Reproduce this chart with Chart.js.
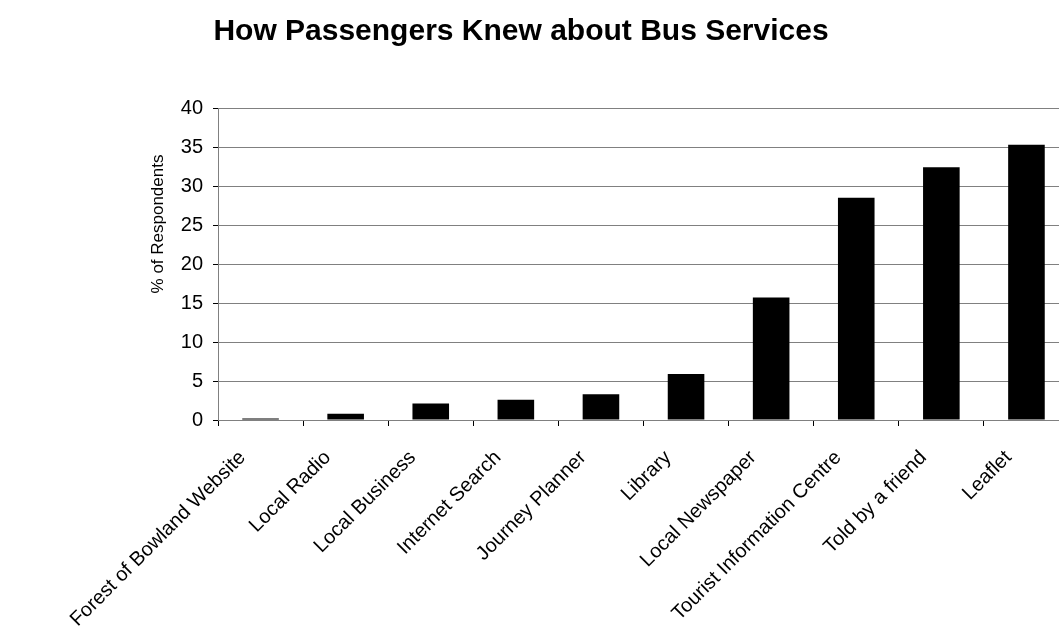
<!DOCTYPE html>
<html>
<head>
<meta charset="utf-8">
<title>How Passengers Knew about Bus Services</title>
<script src="https://cdn.jsdelivr.net/npm/chart.js@4/dist/chart.umd.min.js"></script>
<style>
	html, body { margin: 0; padding: 0; background: #fff; }
	#wrap { width: 1059px; height: 637px; overflow: hidden; }
</style>
</head>
<body>
<!-- canvas is a bit wider than the page, the last gridline ends past the edge -->
<div id="wrap"><canvas id="myChart" width="1069" height="637"></canvas></div>
<script>
const chartTitle = 'How Passengers Knew about Bus Services';
const yTitle = '% of Respondents';
const labels = [
	'Forest of Bowland Website',
	'Local Radio',
	'Local Business',
	'Internet Search',
	'Journey Planner',
	'Library',
	'Local Newspaper',
	'Tourist Information Centre',
	'Told by a friend',
	'Leaflet'
];
const respondents = [0.2, 0.8, 2.1, 2.6, 3.3, 5.9, 15.7, 28.5, 32.4, 35.3];
const yTicks = [0, 5, 10, 15, 20, 25, 30, 35, 40];

const fontFamily = "'Liberation Sans', Arial, sans-serif";

// title and rotated y caption drawn by hand so they sit where wanted
const captions = {
	id: 'captions',
	afterDraw: function(chart){
		let ctx = chart.ctx;
		ctx.save();
		ctx.fillStyle = '#000';
		ctx.textAlign = 'center';

		ctx.font = 'bold 30px ' + fontFamily;
		ctx.textBaseline = 'alphabetic';
		ctx.fillText(chartTitle, 521, 40);

		ctx.translate(158, 224);
		ctx.rotate(-Math.PI / 2);
		ctx.font = '17px ' + fontFamily;
		ctx.textBaseline = 'middle';
		ctx.fillText(yTitle, 0, 0);
		ctx.restore();
	}
};

const data = {
	labels: labels,
	datasets: [{
		label: yTitle,
		backgroundColor: '#000',
		borderColor: '#000',
		borderWidth: 0,
		barPercentage: 0.43,
		categoryPercentage: 1,
		data: respondents
	}]
};

const config = {
	type: 'bar',
	data: data,
	options: {
		responsive: false,
		animation: false,
		layout: { padding: { top: 108, right: 0, left: 0, bottom: 0 } },
		plugins: {
			legend: { display: false },
			tooltip: { enabled: false },
			title: { display: false }
		},
		scales: {
			x: {
				offset: true,
				grid: {
					offset: true,
					drawOnChartArea: false,
					drawTicks: true,
					tickLength: 6,
					color: '#000'
				},
				border: { color: '#808080', width: 1 },
				ticks: {
					color: '#000',
					font: { family: fontFamily, size: 20 },
					minRotation: 45,
					maxRotation: 45,
					autoSkip: false,
					labelOffset: -18,
					padding: 20
				},
				afterFit: function(scale){ scale.height = 217; }
			},
			y: {
				min: 0,
				max: 40,
				afterBuildTicks: function(scale){
					scale.ticks = yTicks.map(function(v){ return { value: v }; });
				},
				grid: {
					color: '#808080',
					lineWidth: 1,
					drawTicks: true,
					tickLength: 5,
					tickColor: '#000'
				},
				border: { color: '#808080', width: 1 },
				ticks: {
					color: '#000',
					font: { family: fontFamily, size: 20 },
					padding: 10
				},
				afterFit: function(scale){ scale.width = 218; }
			}
		}
	},
	plugins: [captions]
};

var myChart = new Chart(document.getElementById('myChart'), config);
</script>
</body>
</html>
